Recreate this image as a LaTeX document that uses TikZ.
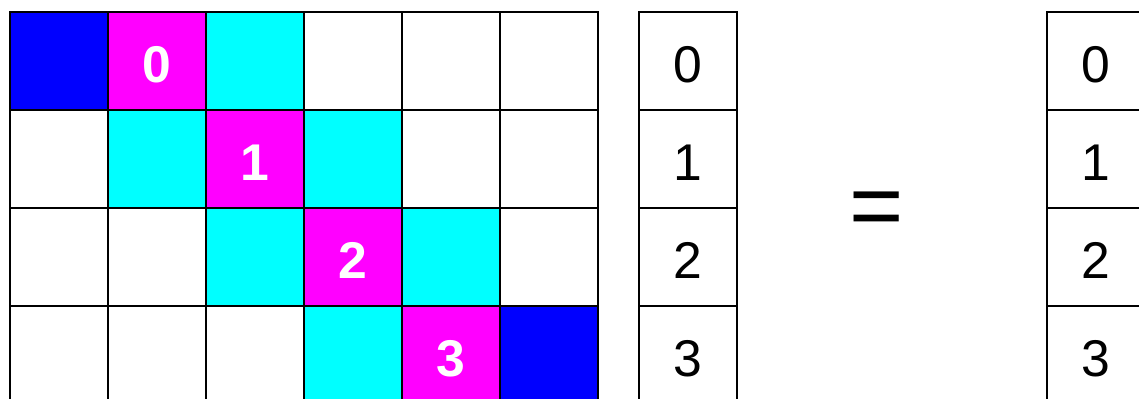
\documentclass[tikz,border=0pt]{standalone}
\usepackage{fontspec}
\setmainfont{Liberation Sans}
\usetikzlibrary{positioning}
\definecolor{DiagBlue}{RGB}{0,0,255}
\definecolor{DiagMagenta}{RGB}{255,0,255}
\definecolor{DiagCyan}{RGB}{0,255,255}

\begin{document}
\begin{tikzpicture}[
    mcell/.style={draw, line width=0.5pt, minimum size=1cm, inner sep=0pt, outer sep=0pt,
                  text height=12.5pt, text depth=0pt,
                  text=white, font=\fontsize{15}{18}\selectfont\bfseries},
    vcell/.style={draw, line width=0.5pt, minimum size=1cm, inner sep=0pt, outer sep=0pt,
                  text height=12.5pt, text depth=0pt,
                  font=\fontsize{15}{18}\selectfont},
    node distance=0cm,
  ]
    \useasboundingbox (-0.102,0.051) rectangle (11.520,4.122);
    % banded matrix
    \foreach \r in {0,...,3}
      \foreach \c in {0,...,5} {
        \pgfmathtruncatemacro\d{\c-\r}
        \pgfmathtruncatemacro\k{10*\r+\c}
        \def\fillc{white}\def\lbl{}
        \ifnum\d=0 \def\fillc{DiagCyan}\fi
        \ifnum\d=2 \def\fillc{DiagCyan}\fi
        \ifnum\d=1 \def\fillc{DiagMagenta}\let\lbl\r\fi
        \ifnum\k=0 \def\fillc{DiagBlue}\fi
        \ifnum\k=35 \def\fillc{DiagBlue}\fi
        \node[mcell, fill=\fillc] (m\r\c) at (\c+0.5,3.5-\r) {\lbl};
      }
    % vectors
    \node[vcell, right=0.418cm of m05] (x0) {0};
    \node[vcell, below=of x0] (x1) {1};
    \node[vcell, below=of x1] (x2) {2};
    \node[vcell, below=of x2] (x3) {3};
    \node[font=\fontsize{27}{30}\selectfont] (eq) at (8.847,1.93) {=};
    \node[vcell] (b0) at (11.082,3.5) {0};
    \node[vcell, below=of b0] (b1) {1};
    \node[vcell, below=of b1] (b2) {2};
    \node[vcell, below=of b2] (b3) {3};
  \end{tikzpicture}
\end{document}
